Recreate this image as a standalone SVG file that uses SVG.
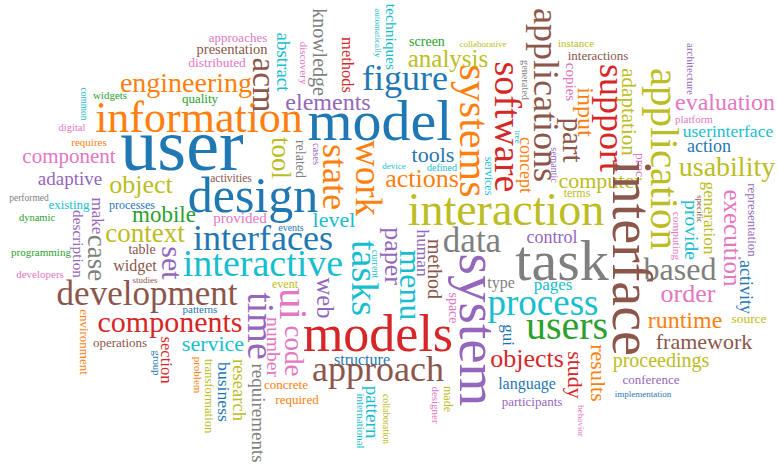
<svg xmlns="http://www.w3.org/2000/svg" width="777" height="464" viewBox="0 0 777 464">
<style>
text{text-anchor:middle}
.b{fill:#1f77b4}.o{fill:#ff7f0e}.g{fill:#2ca02c}.r{fill:#d62728}.p{fill:#9467bd}
.n{fill:#8c564b}.k{fill:#e377c2}.y{fill:#7f7f7f}.l{fill:#bcbd22}.c{fill:#17becf}
</style>
<rect width="777" height="464" fill="#fff"/>
<g id="horizontal" font-family="'Liberation Serif', 'DejaVu Serif', serif">
<text class="b" x="182" y="170" font-size="74">user</text>
<text class="o" x="199" y="132" font-size="44">information</text>
<text class="o" x="186" y="92" font-size="28">engineering</text>
<text class="b" x="380" y="140" font-size="58">model</text>
<text class="b" x="405" y="90" font-size="36">figure</text>
<text class="l" x="448" y="67" font-size="25">analysis</text>
<text class="g" x="427" y="46" font-size="14">screen</text>
<text class="l" x="483" y="47" font-size="9">collaborative</text>
<text class="l" x="576" y="47" font-size="11">instance</text>
<text class="n" x="598" y="60" font-size="13">interactions</text>
<text class="k" x="725" y="110" font-size="24">evaluation</text>
<text class="k" x="694" y="123" font-size="11">platform</text>
<text class="c" x="728" y="137" font-size="17.5">userinterface</text>
<text class="b" x="709" y="152" font-size="18">action</text>
<text class="l" x="727" y="176" font-size="28">usability</text>
<text class="l" x="600" y="188" font-size="22">computer</text>
<text class="l" x="577" y="197" font-size="12">terms</text>
<text class="l" x="506" y="225" font-size="46">interaction</text>
<text class="y" x="472" y="252" font-size="35">data</text>
<text class="p" x="552" y="243" font-size="18">control</text>
<text class="y" x="562" y="280" font-size="58">task</text>
<text class="y" x="501" y="288" font-size="16">type</text>
<text class="c" x="553" y="290" font-size="17">pages</text>
<text class="c" x="543" y="315" font-size="37">process</text>
<text class="g" x="567" y="339" font-size="40">users</text>
<text class="r" x="527" y="367" font-size="26">objects</text>
<text class="b" x="527" y="389" font-size="16">language</text>
<text class="p" x="532" y="406" font-size="13">participants</text>
<text class="o" x="685" y="328" font-size="24">runtime</text>
<text class="l" x="749" y="323" font-size="13.5">source</text>
<text class="n" x="704" y="349" font-size="22">framework</text>
<text class="l" x="661" y="367" font-size="20">proceedings</text>
<text class="p" x="651" y="384" font-size="13">conference</text>
<text class="b" x="643" y="397" font-size="9">implementation</text>
<text class="y" x="680" y="280" font-size="32">based</text>
<text class="k" x="688" y="302" font-size="26">order</text>
<text class="b" x="362" y="365" font-size="16">structure</text>
<text class="n" x="378" y="381" font-size="36">approach</text>
<text class="r" x="378" y="351" font-size="52">models</text>
<text class="o" x="286" y="389" font-size="13">concrete</text>
<text class="o" x="297" y="404" font-size="13">required</text>
<text class="c" x="213" y="351" font-size="22">service</text>
<text class="r" x="170" y="332" font-size="30">components</text>
<text class="b" x="200" y="313" font-size="11">patterns</text>
<text class="n" x="120" y="347" font-size="13">operations</text>
<text class="n" x="147" y="305" font-size="35">development</text>
<text class="n" x="135" y="271" font-size="16">widget</text>
<text class="n" x="145" y="283" font-size="9">studies</text>
<text class="n" x="142" y="254" font-size="14">table</text>
<text class="l" x="145" y="242" font-size="27">context</text>
<text class="g" x="164" y="222" font-size="23">mobile</text>
<text class="b" x="132" y="209" font-size="12">processes</text>
<text class="l" x="141" y="193" font-size="26">object</text>
<text class="p" x="70" y="185" font-size="19">adaptive</text>
<text class="k" x="69" y="163" font-size="21">component</text>
<text class="y" x="29" y="201" font-size="9.5">performed</text>
<text class="c" x="69" y="209" font-size="13">existing</text>
<text class="g" x="37" y="221" font-size="10.5">dynamic</text>
<text class="g" x="41" y="256" font-size="11">programming</text>
<text class="k" x="40" y="278" font-size="11">developers</text>
<text class="k" x="72" y="131" font-size="10.5">digital</text>
<text class="o" x="89" y="146" font-size="11">requires</text>
<text class="g" x="110" y="99" font-size="11">widgets</text>
<text class="g" x="200" y="103" font-size="13">quality</text>
<text class="k" x="217" y="67" font-size="13.5">distributed</text>
<text class="n" x="232" y="54" font-size="14.5">presentation</text>
<text class="k" x="238" y="42" font-size="13">approaches</text>
<text class="p" x="328" y="110" font-size="24">elements</text>
<text class="n" x="231" y="182" font-size="11.5">activities</text>
<text class="b" x="253" y="212" font-size="50">design</text>
<text class="k" x="240" y="223" font-size="15">provided</text>
<text class="b" x="291" y="231" font-size="10">events</text>
<text class="c" x="334" y="227" font-size="22">level</text>
<text class="b" x="263" y="250" font-size="36">interfaces</text>
<text class="c" x="263" y="276" font-size="38">interactive</text>
<text class="c" x="394" y="169" font-size="9">device</text>
<text class="c" x="442" y="171" font-size="10">defined</text>
<text class="b" x="433" y="162" font-size="22">tools</text>
<text class="o" x="422" y="187" font-size="26">actions</text>
<text class="l" x="285" y="288" font-size="12">event</text>
</g>
<g id="vertical" font-family="'Liberation Serif', 'DejaVu Serif', serif">
<text class="p" transform="translate(162,263) rotate(90)" font-size="30">set</text>
<text class="y" transform="translate(313,52) rotate(90)" font-size="20">knowledge</text>
<text class="c" transform="translate(277,62) rotate(90)" font-size="19">abstract</text>
<text class="k" transform="translate(300,63) rotate(90)" font-size="11">discovery</text>
<text class="r" transform="translate(342,65) rotate(90)" font-size="16.5">methods</text>
<text class="c" transform="translate(386,37) rotate(90)" font-size="15.5">techniques</text>
<text class="c" transform="translate(375,33) rotate(90)" font-size="9">automatically</text>
<text class="n" transform="translate(253,85) rotate(90)" font-size="33">acm</text>
<text class="l" transform="translate(272,158) rotate(90)" font-size="27">tool</text>
<text class="y" transform="translate(296,159) rotate(90)" font-size="14">related</text>
<text class="p" transform="translate(313,154) rotate(90)" font-size="10.5">cases</text>
<text class="o" transform="translate(323,177) rotate(90)" font-size="36">state</text>
<text class="o" transform="translate(356,178) rotate(90)" font-size="37">work</text>
<text class="c" transform="translate(485,176) rotate(90)" font-size="12">services</text>
<text class="o" transform="translate(460,131) rotate(90)" font-size="42">systems</text>
<text class="r" transform="translate(495,127) rotate(90)" font-size="38">software</text>
<text class="y" transform="translate(522,80) rotate(90)" font-size="10.3">generated</text>
<text class="n" transform="translate(534,95) rotate(90)" font-size="36">applications</text>
<text class="k" transform="translate(566,82) rotate(90)" font-size="15">copies</text>
<text class="o" transform="translate(578,112) rotate(90)" font-size="24">input</text>
<text class="n" transform="translate(563,140) rotate(90)" font-size="29">part</text>
<text class="o" transform="translate(520,165) rotate(90)" font-size="18">concept</text>
<text class="c" transform="translate(515,137) rotate(90)" font-size="9">tree</text>
<text class="p" transform="translate(551,165) rotate(90)" font-size="10">semantic</text>
<text class="r" transform="translate(600,118) rotate(90)" font-size="36">support</text>
<text class="l" transform="translate(622,112) rotate(90)" font-size="21">adaptation</text>
<text class="l" transform="translate(651,159) rotate(90)" font-size="41">application</text>
<text class="p" transform="translate(687,69) rotate(90)" font-size="11">architecture</text>
<text class="k" transform="translate(636,165) rotate(90)" font-size="13.5">proc</text>
<text class="l" transform="translate(704,218) rotate(90)" font-size="17.3">generation</text>
<text class="n" transform="translate(697,209) rotate(90)" font-size="9">specific</text>
<text class="c" transform="translate(685,230) rotate(90)" font-size="19.6">provide</text>
<text class="k" transform="translate(673,236) rotate(90)" font-size="11.3">computing</text>
<text class="k" transform="translate(724,238) rotate(90)" font-size="25">execution</text>
<text class="p" transform="translate(748,220) rotate(90)" font-size="13">representation</text>
<text class="b" transform="translate(740,287) rotate(90)" font-size="18">activity</text>
<text class="n" transform="translate(613,258) rotate(90)" font-size="56">interface</text>
<text class="o" transform="translate(591,373) rotate(90)" font-size="22">results</text>
<text class="r" transform="translate(568,375) rotate(90)" font-size="22">study</text>
<text class="k" transform="translate(578,421) rotate(90)" font-size="9">behavior</text>
<text class="b" transform="translate(503,335) rotate(90)" font-size="17">gui</text>
<text class="p" transform="translate(460,330) rotate(90)" font-size="55">system</text>
<text class="k" transform="translate(449,308) rotate(90)" font-size="14">space</text>
<text class="k" transform="translate(432,405) rotate(90)" font-size="11">designer</text>
<text class="l" transform="translate(444,399) rotate(90)" font-size="12">made</text>
<text class="c" transform="translate(400,285) rotate(90)" font-size="32">menu</text>
<text class="p" transform="translate(385,256) rotate(90)" font-size="26">paper</text>
<text class="c" transform="translate(372,264) rotate(90)" font-size="10">current</text>
<text class="c" transform="translate(352,278) rotate(90)" font-size="38">tasks</text>
<text class="p" transform="translate(317,298) rotate(90)" font-size="24.6">web</text>
<text class="k" transform="translate(285,351) rotate(90)" font-size="27">code</text>
<text class="k" transform="translate(280,304) rotate(90)" font-size="41">ui</text>
<text class="k" transform="translate(267,347) rotate(90)" font-size="19.6">number</text>
<text class="p" transform="translate(248,326) rotate(90)" font-size="38">time</text>
<text class="y" transform="translate(252,413) rotate(90)" font-size="19">requirements</text>
<text class="l" transform="translate(233,390) rotate(90)" font-size="18.6">research</text>
<text class="b" transform="translate(218,392) rotate(90)" font-size="17.7">business</text>
<text class="l" transform="translate(205,396) rotate(90)" font-size="12.7">transformation</text>
<text class="o" transform="translate(194,375) rotate(90)" font-size="11">problem</text>
<text class="r" transform="translate(161,360) rotate(90)" font-size="16.6">section</text>
<text class="b" transform="translate(153,363) rotate(90)" font-size="10.7">group</text>
<text class="o" transform="translate(80,342) rotate(90)" font-size="13">environment</text>
<text class="p" transform="translate(92,216) rotate(90)" font-size="17">make</text>
<text class="p" transform="translate(73,244) rotate(90)" font-size="15.3">description</text>
<text class="y" transform="translate(88,258) rotate(90)" font-size="27">case</text>
<text class="c" transform="translate(81,104) rotate(90)" font-size="9.4">common</text>
<text class="n" transform="translate(428,269) rotate(90)" font-size="20">method</text>
<text class="p" transform="translate(417,253) rotate(90)" font-size="17.3">human</text>
<text class="c" transform="translate(366,412) rotate(90)" font-size="19">pattern</text>
<text class="c" transform="translate(357,421) rotate(90)" font-size="10.9">international</text>
<text class="l" transform="translate(383,419) rotate(90)" font-size="9.5">collaboration</text>
</g>
</svg>
